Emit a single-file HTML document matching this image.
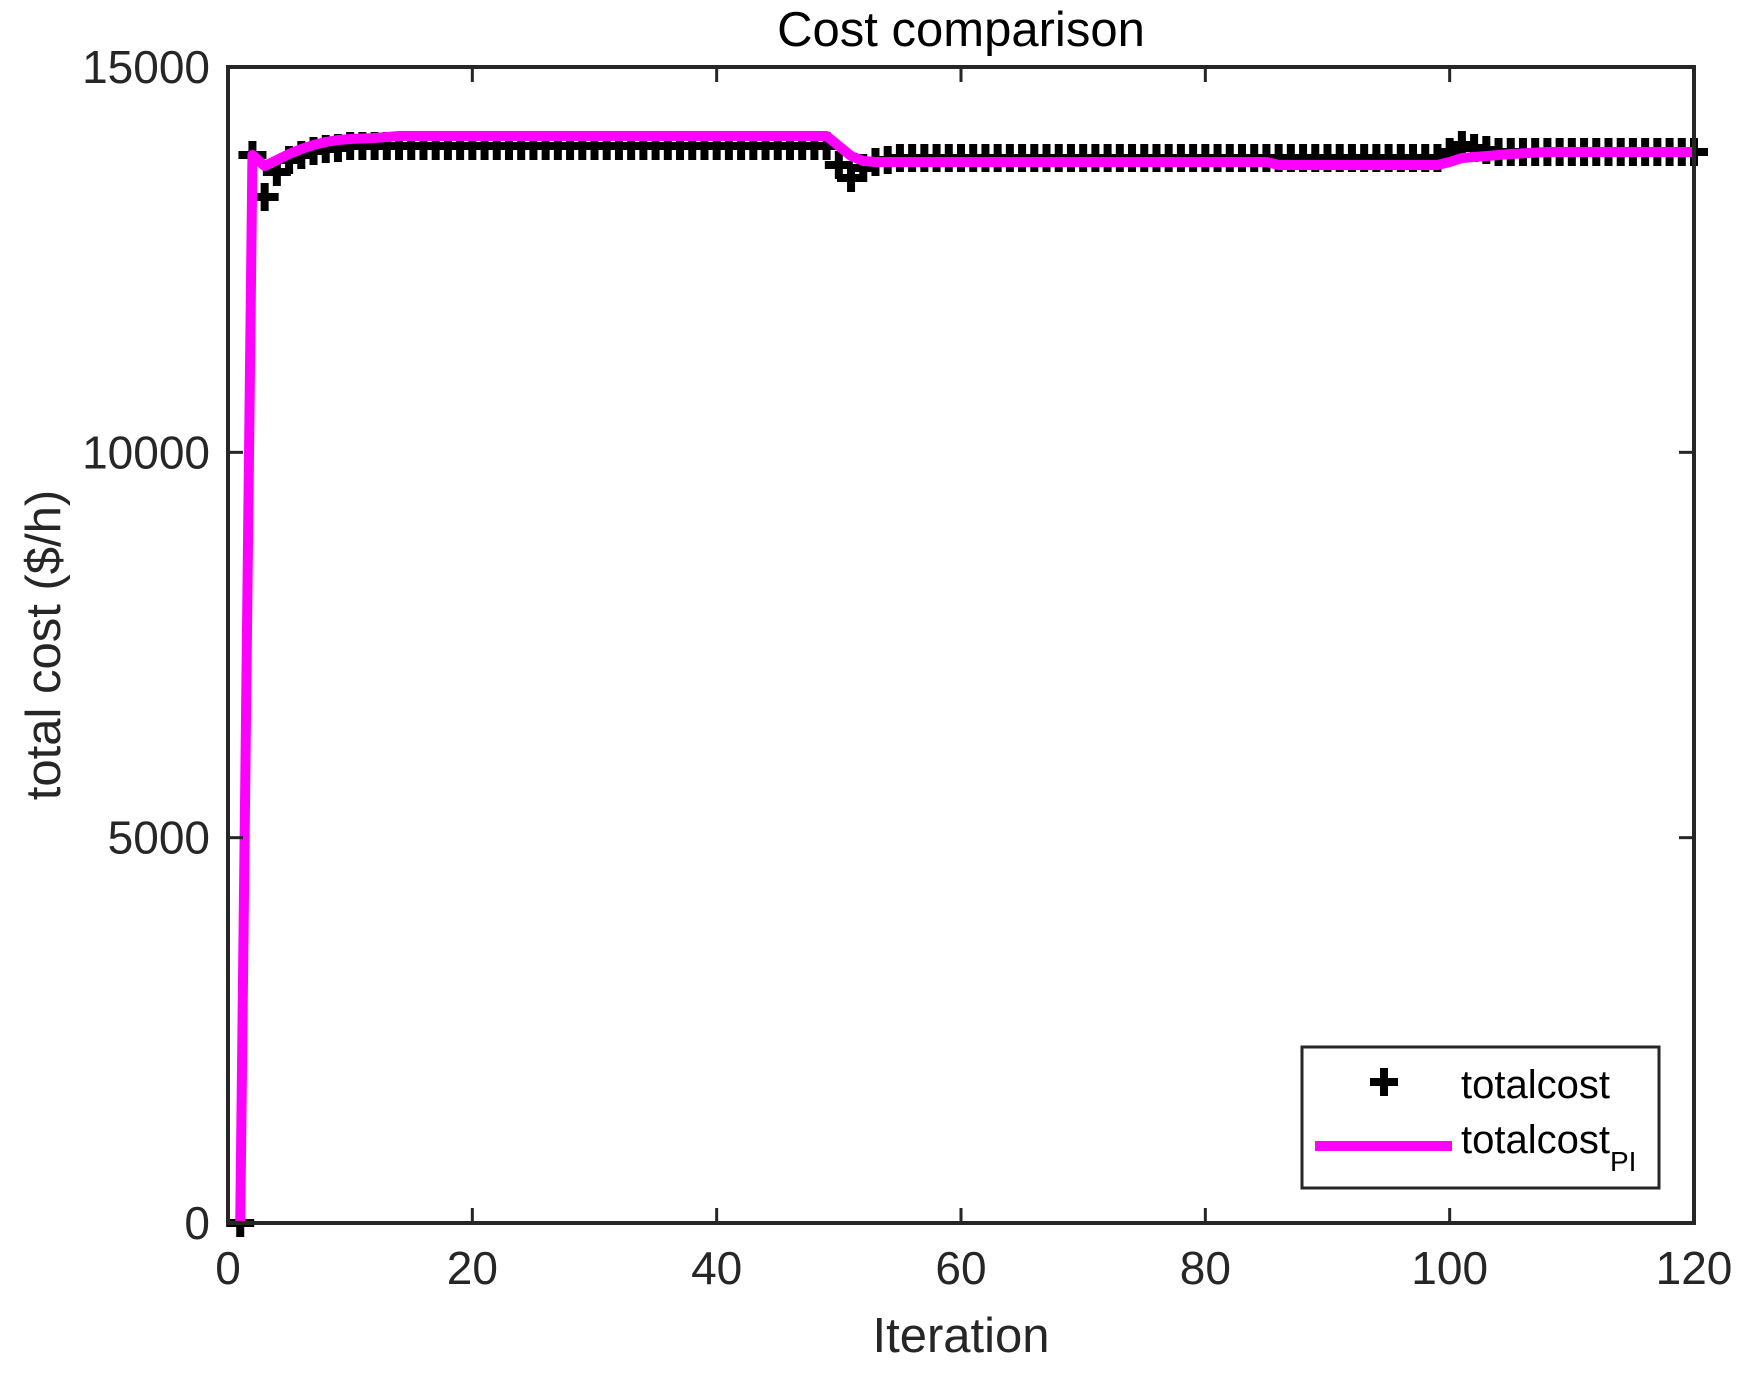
<!DOCTYPE html>
<html><head><meta charset="utf-8"><style>
html,body{margin:0;padding:0;background:#fff;}
svg{display:block;}
text{font-family:"Liberation Sans",sans-serif;}
</style></head><body>
<svg id="s" width="1746" height="1376" viewBox="0 0 1746 1376" xmlns="http://www.w3.org/2000/svg">
<rect width="1746" height="1376" fill="#fff"/>
<g id="data"></g>
<g stroke="#262626" stroke-width="4" fill="none">
<rect x="228" y="67" width="1466" height="1156"/>
</g>
<g stroke="#262626" stroke-width="3" id="ticks"></g>
<g fill="#262626" font-size="46" id="labels"></g>
<text x="961" y="46" font-size="49" text-anchor="middle" fill="#000">Cost comparison</text>
<text x="961" y="1352" font-size="49" text-anchor="middle" fill="#262626">Iteration</text>
<text transform="translate(60,645) rotate(-90)" font-size="49" text-anchor="middle" fill="#262626">total cost ($/h)</text>
<rect x="1302" y="1047" width="357" height="141" fill="#fff" stroke="#262626" stroke-width="3"/>
<path d="M1370 1078h28v8h-28z M1380 1068h8v28h-8z" fill="#000"/>
<line x1="1315" y1="1146" x2="1452" y2="1146" stroke="#ff00ff" stroke-width="10"/>
<text x="1461" y="1098" font-size="40" fill="#000">totalcost</text>
<text x="1461" y="1153" font-size="40" fill="#000">totalcost<tspan font-size="28" dy="18">PI</tspan></text>
</svg>
<script>
(function(){
var NS="http://www.w3.org/2000/svg";
function X(i){return 228+i*1466/120;}
function el(t,a,p){var e=document.createElementNS(NS,t);for(var k in a)e.setAttribute(k,a[k]);p.appendChild(e);return e;}
var ticks=document.getElementById('ticks'),labels=document.getElementById('labels'),data=document.getElementById('data');
for(var v=0;v<=120;v+=20){var x=X(v);
 el('line',{x1:x,y1:1223,x2:x,y2:1208},ticks);el('line',{x1:x,y1:67,x2:x,y2:82},ticks);
 var t=el('text',{x:x,y:1284,'text-anchor':'middle'},labels);t.textContent=v;}
for(var k=0;k<=3;k++){var y=1223-k*1156/3;
 el('line',{x1:228,y1:y,x2:243,y2:y},ticks);el('line',{x1:1694,y1:y,x2:1679,y2:y},ticks);
 var t2=el('text',{x:210,y:y+16,'text-anchor':'end'},labels);t2.textContent=k*5000;}
var my={1:1223,2:155,3:197,4:172,5:160,6:155,7:151,8:149,9:148,50:165,51:178,52:168,53:162,54:160,100:152,101:145,102:148,103:150};
var d="";
for(var i=1;i<=120;i++){var y;
 if(my[i]!==undefined)y=my[i];
 else if(i<50)y=146; else if(i<100)y=158; else y=152;
 var x=X(i);
 d+="M"+(x-14)+" "+(y-4)+"h28v8h-28z M"+(x-4)+" "+(y-14)+"h8v28h-8z ";}
el('path',{d:d,fill:'#000'},data);
var pts=[[1,1223],[2,155],[3,166],[4,160],[5,154],[6,149],[7,145],[8,142],[9,140],[10,139],[12,138],[14,136],[49,136],[50,146],[51,156],[52,161],[53,162],[85,162],[86,165],[99,165],[100,162],[101,158],[103,156],[105,154],[108,152],[120,152]];
var p="";for(var j=0;j<pts.length;j++){p+=(j?"L":"M")+X(pts[j][0])+" "+pts[j][1];}
el('path',{d:p,fill:'none',stroke:'#ff00ff','stroke-width':10,'stroke-linejoin':'round'},data);
})();
</script>
</body></html>
